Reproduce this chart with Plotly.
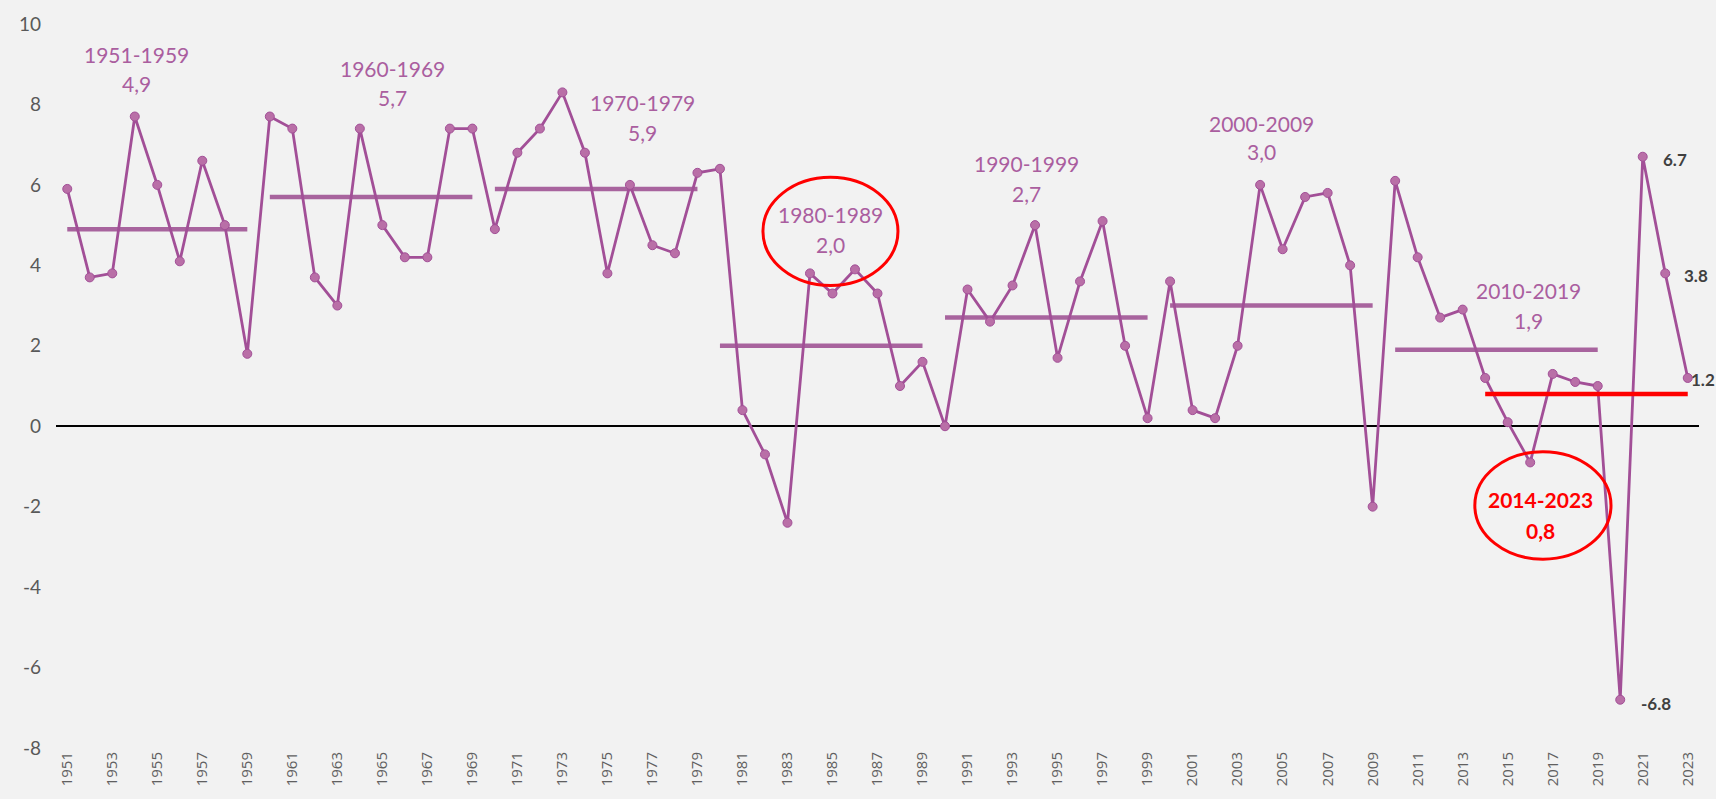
import plotly.graph_objects as go

# ---------------- data ----------------
years = list(range(1951, 2024))
growth = [5.9, 3.7, 3.8, 7.7, 6.0, 4.1, 6.6, 5.0, 1.8,            # 1951-1959
          7.7, 7.4, 3.7, 3.0, 7.4, 5.0, 4.2, 4.2, 7.4, 7.4,       # 1960-1969
          4.9, 6.8, 7.4, 8.3, 6.8, 3.8, 6.0, 4.5, 4.3, 6.3,       # 1970-1979
          6.4, 0.4, -0.7, -2.4, 3.8, 3.3, 3.9, 3.3, 1.0, 1.6,     # 1980-1989
          0.0, 3.4, 2.6, 3.5, 5.0, 1.7, 3.6, 5.1, 2.0, 0.2,       # 1990-1999
          3.6, 0.4, 0.2, 2.0, 6.0, 4.4, 5.7, 5.8, 4.0, -2.0,      # 2000-2009
          6.1, 4.2, 2.7, 2.9, 1.2, 0.1, -0.9, 1.3, 1.1, 1.0,      # 2010-2019
          -6.8, 6.7, 3.8, 1.2]                                    # 2020-2023

period_starts = [1951, 1960, 1970, 1980, 1990, 2000, 2010]
period_ends = [1959, 1969, 1979, 1989, 1999, 2009, 2019]
period_avgs = [4.9, 5.7, 5.9, 2.0, 2.7, 3.0, 1.9]

recent_start = 2014
recent_end = 2023
recent_avg = 0.8

labelled_years = [2020, 2021, 2022, 2023]
x_tick_years = list(range(1951, 2024, 2))
y_ticks = [-8, -6, -4, -2, 0, 2, 4, 6, 8, 10]

# ---------------- styles ----------------
BG = "#F2F2F2"
LINE = "#A24F97"
MARK = "#B96FA7"
AVG = "#A8649E"
LABEL = "#AA5E9F"
RED = "#FF0000"
FONT = "Lato, 'Open Sans', sans-serif"

def fmt(v):
    return f"{v:.1f}".replace(".", ",")

fig = go.Figure()

# decade average lines
for s, e, a in zip(period_starts, period_ends, period_avgs):
    fig.add_trace(go.Scatter(x=[s, e], y=[a, a], mode="lines",
                             line=dict(color=AVG, width=4.5),
                             hoverinfo="skip", showlegend=False))

# main series
fig.add_trace(go.Scatter(x=years, y=growth, mode="lines+markers",
                         line=dict(color=LINE, width=2.8),
                         marker=dict(size=9, color=MARK, line=dict(color=LINE, width=1)),
                         showlegend=False))

# recent average (red)
fig.add_trace(go.Scatter(x=[recent_start, recent_end], y=[recent_avg, recent_avg], mode="lines",
                         line=dict(color=RED, width=4.5),
                         hoverinfo="skip", showlegend=False))

# period label placement (layout positions, in axis units)
label_pos = [  # (x_center, y_title, y_value)
    (1954.07, 9.24, 8.51),
    (1965.47, 8.90, 8.18),
    (1976.58, 8.05, 7.31),
    (1984.93, 5.26, 4.51),
    (1993.64, 6.52, 5.78),
    (2004.08, 7.53, 6.83),
    (2015.91, 3.38, 2.64),
]
annotations = []
for (s, e, a), (xc, yt, yv) in zip(zip(period_starts, period_ends, period_avgs), label_pos):
    annotations.append(dict(x=xc, y=yt, xref="x", yref="y", text=f"{s}-{e}", showarrow=False,
                            font=dict(family=FONT, size=21, color=LABEL)))
    annotations.append(dict(x=xc, y=yv, xref="x", yref="y", text=fmt(a), showarrow=False,
                            font=dict(family=FONT, size=21, color=LABEL)))

annotations.append(dict(x=2016.46, y=-1.81, xref="x", yref="y", text=f"<b>{recent_start}-{recent_end}</b>",
                        showarrow=False, font=dict(family=FONT, size=21, color=RED)))
annotations.append(dict(x=2016.46, y=-2.58, xref="x", yref="y", text=f"<b>{fmt(recent_avg)}</b>",
                        showarrow=False, font=dict(family=FONT, size=21, color=RED)))

# data labels for last years
shifts = {2020: (36, -4), 2021: (32, -3), 2022: (31, -2), 2023: (15, -2)}
for yr in labelled_years:
    v = growth[years.index(yr)]
    dx, dy = shifts[yr]
    annotations.append(dict(x=yr, y=v, xref="x", yref="y", text=f"<b>{v:.1f}</b>", showarrow=False,
                            xshift=dx, yshift=dy,
                            font=dict(family=FONT, size=17, color="#404040")))

shapes = [
    dict(type="circle", xref="x", yref="y", x0=1981.91, x1=1987.91, y0=3.50, y1=6.19,
         line=dict(color=RED, width=3)),
    dict(type="circle", xref="x", yref="y", x0=2013.54, x1=2019.59, y0=-3.305, y1=-0.633,
         line=dict(color=RED, width=3)),
]

fig.update_layout(
    width=1716, height=799,
    paper_bgcolor=BG, plot_bgcolor=BG,
    margin=dict(l=56, r=17, t=21, b=51),
    annotations=annotations, shapes=shapes,
    xaxis=dict(range=[1950.5, 2023.5], tickmode="array", tickvals=x_tick_years,
               ticktext=[str(y) for y in x_tick_years], tickangle=-90,
               showgrid=False, zeroline=False, showline=False, ticks="",
               tickfont=dict(family="'Open Sans', sans-serif", size=15, color="#606060")),
    yaxis=dict(range=[-8, 10], tickmode="array", tickvals=y_ticks,
               ticktext=[str(v) for v in y_ticks],
               showgrid=False, zeroline=True, zerolinecolor="#000000", zerolinewidth=1.5,
               showline=False, ticks="", ticklabelstandoff=14,
               tickfont=dict(family=FONT, size=19, color="#595959")),
    hovermode=False,
)

fig.write_html("out.html",
               config={"displayModeBar": False},
               post_script="document.body.style.margin='0px';"
                           "document.body.style.background='#F2F2F2';"
                           "document.body.style.overflow='hidden';")
